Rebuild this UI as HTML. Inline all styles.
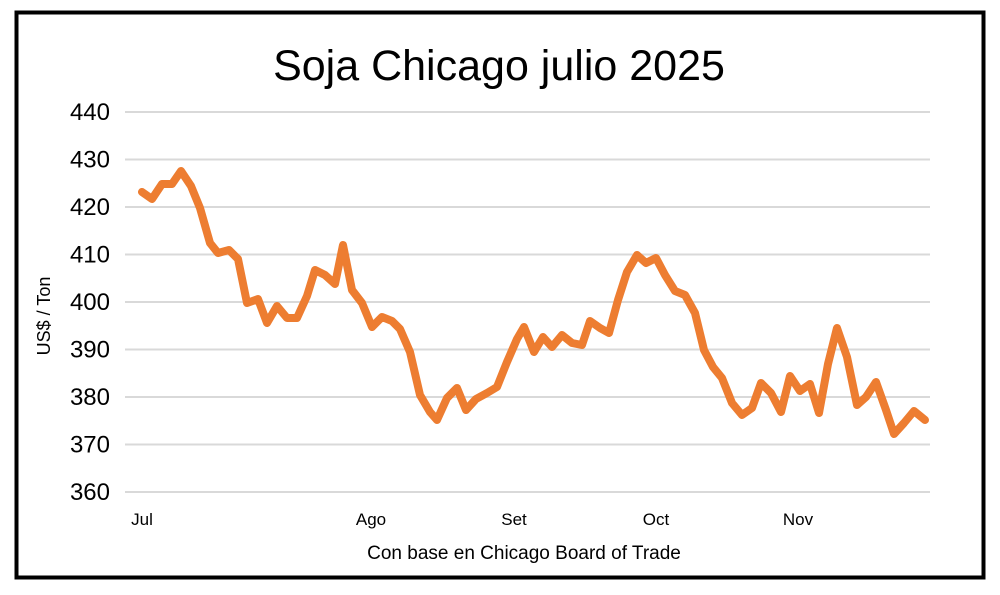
<!DOCTYPE html>
<html><head><meta charset="utf-8"><style>
html,body{margin:0;padding:0;background:#fff;}
body{width:1000px;height:590px;overflow:hidden;font-family:"Liberation Sans",Calibri,sans-serif;}
</style></head><body>
<svg width="1000" height="590" viewBox="0 0 1000 590" xmlns="http://www.w3.org/2000/svg" font-family="Liberation Sans, sans-serif">
<rect x="0" y="0" width="1000" height="590" fill="#fff"/>
<rect x="16.5" y="12.5" width="967" height="565" fill="none" stroke="#000" stroke-width="4"/>
<text x="499" y="80" text-anchor="middle" font-size="43" fill="#000">Soja Chicago julio 2025</text>
<g stroke="#d9d9d9" stroke-width="2">
<line x1="125" x2="930" y1="112" y2="112"/>
<line x1="125" x2="930" y1="159.5" y2="159.5"/>
<line x1="125" x2="930" y1="207" y2="207"/>
<line x1="125" x2="930" y1="254.5" y2="254.5"/>
<line x1="125" x2="930" y1="302" y2="302"/>
<line x1="125" x2="930" y1="349.5" y2="349.5"/>
<line x1="125" x2="930" y1="397" y2="397"/>
<line x1="125" x2="930" y1="444.5" y2="444.5"/>
<line x1="125" x2="930" y1="492" y2="492"/>
</g>
<g font-size="24" fill="#000" text-anchor="end">
<text x="110" y="120">440</text><text x="110" y="167.5">430</text><text x="110" y="215">420</text>
<text x="110" y="262.5">410</text><text x="110" y="310">400</text><text x="110" y="357.5">390</text>
<text x="110" y="405">380</text><text x="110" y="452.5">370</text><text x="110" y="500">360</text>
</g>
<text transform="translate(50,316) rotate(-90)" text-anchor="middle" font-size="18">US$ / Ton</text>
<g font-size="17" text-anchor="middle">
<text x="142" y="525">Jul</text><text x="371" y="525">Ago</text><text x="514" y="525">Set</text>
<text x="656" y="525">Oct</text><text x="798" y="525">Nov</text>
</g>
<text x="524" y="559" text-anchor="middle" font-size="19">Con base en Chicago Board of Trade</text>
<polyline fill="none" stroke="#ED7D31" stroke-width="8" stroke-linejoin="round" stroke-linecap="round" points="142,192 152,199 162,184 172,184 181,171 191,186 200,208 210,243 218,253 229,250 238,259 247,303 258,299 267,323 277,306 287,318 297,318 307,296 315,270 325,275 335,284 343,245 352,290 362,303 372,327 382,317 392,321 400,329 410,352 420,395 430,412 437,420 447,398 457,388 466,410 476,399 487,393 497,387 507,362 517,339 524,327 534,352 543,337 552,347 562,335 572,343 582,345 590,321 600,328 609,333 618,300 627,272 637,255 646,263 656,258 665,275 675,291 685,295 695,313 704,350 713,367 722,378 732,403 742,415 752,408 761,383 771,393 781,412 790,376 800,391 810,384 819,413 828,364 837,328 847,357 857,405 866,397 876,382 886,410 894,434 904,423 914,411 925,420"/>
</svg>
</body></html>
